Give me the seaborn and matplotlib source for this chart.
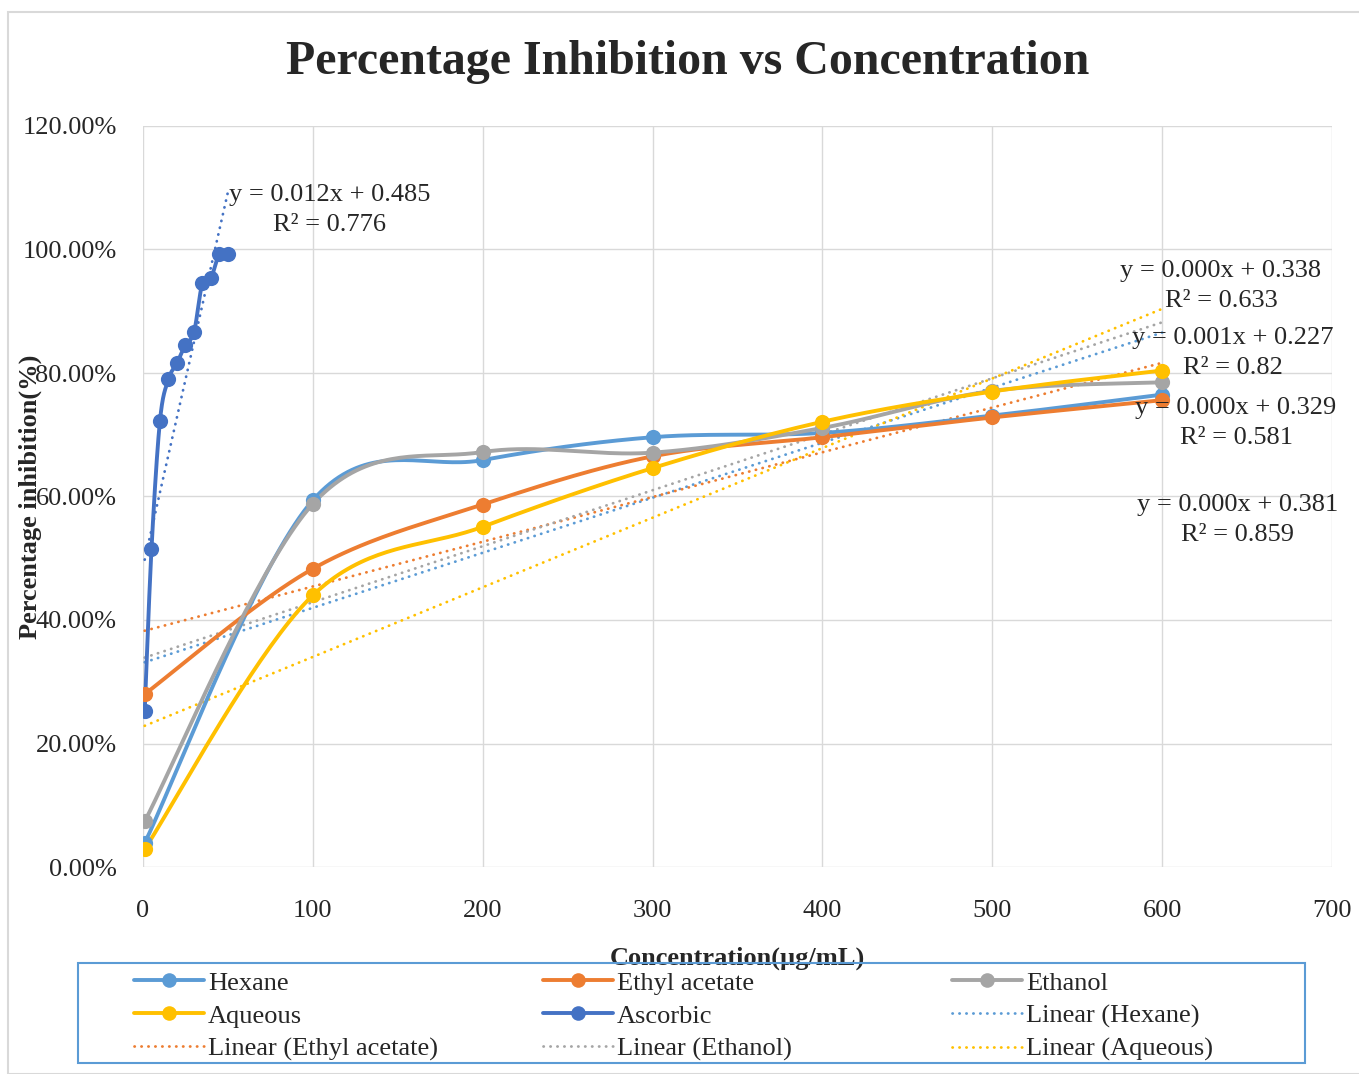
import numpy as np
import matplotlib
matplotlib.use("Agg")
import matplotlib.pyplot as plt
from matplotlib.lines import Line2D
from matplotlib.patches import Rectangle
from matplotlib.ticker import PercentFormatter, MultipleLocator
import seaborn as sns

# data (percent inhibition)
conc = [1, 100, 200, 300, 400, 500, 600]
hexane = [3.9, 59.4, 65.9, 69.6, 70.3, 73.1, 76.5]
ethyl_acetate = [28.0, 48.3, 58.7, 66.5, 69.6, 72.8, 75.6]
ethanol = [7.4, 58.8, 67.2, 67.1, 71.1, 77.1, 78.5]
aqueous = [2.9, 44.0, 55.1, 64.6, 72.1, 77.0, 80.4]
asc_conc = [1, 5, 10, 15, 20, 25, 30, 35, 40, 45, 50]
ascorbic = [25.2, 51.5, 72.3, 79.0, 81.6, 84.6, 86.6, 94.6, 95.4, 99.3, 99.3]

names = ["Hexane", "Ethyl acetate", "Ethanol", "Aqueous", "Ascorbic"]
colors = ["#5B9BD5", "#ED7D31", "#A5A5A5", "#FFC000", "#4472C4"]
xs = [conc, conc, conc, conc, asc_conc]
ys = [hexane, ethyl_acetate, ethanol, aqueous, ascorbic]

# trendline labels as printed on the chart, with their positions
eq_labels = ["y = 0.012x + 0.485\nR² = 0.776",
             "y = 0.000x + 0.338\nR² = 0.633",
             "y = 0.001x + 0.227\nR² = 0.82",
             "y = 0.000x + 0.329\nR² = 0.581",
             "y = 0.000x + 0.381\nR² = 0.859"]
eq_pos = [(110, 106.4), (634.6, 94.1), (641.7, 83.2), (643.5, 71.9), (644.6, 56.2)]


def smooth(x, y, n=40):
    # excel-like smoothed line (bezier through the points)
    pts = np.column_stack([x, y]).astype(float)
    P = np.vstack([pts[0], pts, pts[-1]])
    t = np.linspace(0, 1, n)[:, None]
    out = []
    for i in range(1, len(P) - 2):
        p0, p1, p2, p3 = P[i - 1], P[i], P[i + 1], P[i + 2]
        c1 = p1 + (p2 - p0) / 6
        c2 = p2 - (p3 - p1) / 6
        seg = (1 - t) ** 3 * p1 + 3 * (1 - t) ** 2 * t * c1 + 3 * (1 - t) * t ** 2 * c2 + t ** 3 * p2
        out.append(seg if i == 1 else seg[1:])
    s = np.vstack(out)
    return s[:, 0], s[:, 1]


sns.set_style("whitegrid", {"grid.color": "#D9D9D9"})
plt.rcParams['font.family'] = ['Liberation Serif', 'DejaVu Serif']

fig = plt.figure(figsize=(13.59, 10.74), dpi=100)
fig.patches.append(Rectangle((8 / 1359, 0), 1.2, (1074 - 12) / 1074, transform=fig.transFigure,
                             fill=False, edgecolor="#D9D9D9", lw=1.5))
ax = fig.add_axes([143 / 1359, (1074 - 867) / 1074, 1189 / 1359, 741 / 1074])

dot = (0, (0.1, 2.4))
# trendlines
for x, y, c in zip(xs, ys, colors):
    sns.regplot(x=np.array(x), y=np.array(y), ax=ax, scatter=False, ci=None, color=c,
                line_kws=dict(lw=2, linestyle=dot, dash_capstyle="round", zorder=2))

# smoothed series + markers
for x, y, c in zip(xs, ys, colors):
    sx, sy = smooth(x, y)
    sns.lineplot(x=sx, y=sy, ax=ax, sort=False, estimator=None, color=c, lw=2.8, zorder=3)
    sns.scatterplot(x=x, y=y, ax=ax, s=120, color=c, edgecolor=c, linewidth=0, zorder=4)

for txt, (tx, ty) in zip(eq_labels, eq_pos):
    ax.text(tx, ty, txt, ha="center", va="center", fontsize=19, linespacing=1.45, zorder=5)

ax.set_xlim(0, 700)
ax.set_ylim(0, 120)
ax.xaxis.set_major_locator(MultipleLocator(100))
ax.yaxis.set_major_locator(MultipleLocator(20))
ax.yaxis.set_major_formatter(PercentFormatter(100, decimals=2))
ax.tick_params(axis="both", length=0, labelsize=19)
ax.tick_params(axis="x", pad=24)
ax.tick_params(axis="y", pad=19)
ax.grid(True, color="#D9D9D9", lw=1)
for sp in ax.spines.values():
    sp.set_visible(False)

ax.set_xlabel("Concentration(µg/mL)", fontsize=19, fontweight="bold")
ax.xaxis.set_label_coords(0.5, -0.123)
ax.xaxis.label.set_va("center")
ax.set_ylabel("Percentage inhibition(%)", fontsize=19, fontweight="bold")
ax.yaxis.set_label_coords(-0.095, 0.5)
ax.yaxis.label.set_va("center")

fig.text(688 / 1359, 1 - 62 / 1074, "Percentage Inhibition vs Concentration",
         ha="center", va="center", fontsize=34.5, fontweight="bold")

# legend, filled row by row like excel: one legend per column
series_h = [Line2D([], [], color=c, lw=2.8, marker="o", markersize=10.5, markeredgewidth=0)
            for c in colors]
trend_h = [Line2D([], [], color=c, lw=2, linestyle=dot, dash_capstyle="round") for c in colors[:4]]
trend_n = ["Linear (" + n + ")" for n in names[:4]]
items = list(zip(series_h, names)) + list(zip(trend_h, trend_n))
columns = [[0, 3, 6], [1, 4, 7], [2, 5, 8]]
col_x = [121, 530, 939]
fig.patches.append(Rectangle((78 / 1359, (1074 - 1063) / 1074), (1305 - 78) / 1359, 100 / 1074,
                             transform=fig.transFigure, fill=False, edgecolor="#5B9BD5", lw=1.5))
for idx, cx in zip(columns, col_x):
    leg = fig.legend([items[i][0] for i in idx], [items[i][1] for i in idx],
                     frameon=False, loc="upper left",
                     bbox_to_anchor=(cx / 1359, 1 - 958 / 1074), borderpad=0, fontsize=19,
                     handlelength=2.65, handletextpad=0.15, labelspacing=0.36)

fig.savefig("out.png", dpi=100)
